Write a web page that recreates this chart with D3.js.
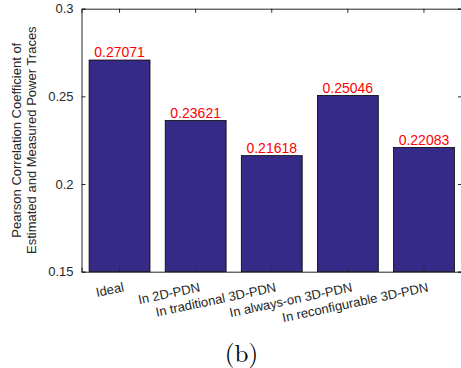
<!DOCTYPE html>
<html>
<head>
<meta charset="utf-8">
<script src="https://cdn.jsdelivr.net/npm/d3@7"></script>
<style>
  body { margin: 0; background: #fff; }
  text { font-family: "Liberation Sans", Arial, Helvetica, sans-serif; }
</style>
</head>
<body>
<script>
// datos
var categorias = ["Ideal", "In 2D-PDN", "In traditional 3D-PDN", "In always-on 3D-PDN", "In reconfigurable 3D-PDN"];
var valores = [0.27071, 0.23621, 0.21618, 0.25046, 0.22083];
var ticksY = [0.15, 0.2, 0.25, 0.3];
var etiquetaY = ["Pearson Correlation Coefficient of", "Estimated and Measured Power Traces"];

var ancho = 461, alto = 368;
var izq = 81.5, der = 462, arriba = 8.7, abajo = 271.7;
var colorEje = "#262626";

var svg = d3.select("body").append("svg")
    .attr("width", ancho)
    .attr("height", alto);

var x = d3.scaleBand()
    .domain(categorias)
    .range([izq, der])
    .paddingInner(0.2)
    .paddingOuter(0.1);

var y = d3.scaleLinear()
    .domain([0.15, 0.3])
    .range([abajo, arriba]);

// barras
svg.append("g").selectAll("rect")
    .data(valores)
    .enter().append("rect")
    .attr("x", function(d, i){ return x(categorias[i]); })
    .attr("y", function(d){ return y(d); })
    .attr("width", x.bandwidth())
    .attr("height", function(d){ return abajo - y(d); })
    .attr("fill", "#352a87")
    .attr("stroke", "#000")
    .attr("stroke-width", 0.8);

// valores sobre las barras
svg.append("g").selectAll("text")
    .data(valores)
    .enter().append("text")
    .attr("x", function(d, i){ return x(categorias[i]) + x.bandwidth()/2; })
    .attr("y", function(d){ return y(d) - 3; })
    .attr("text-anchor", "middle")
    .attr("fill", "#ff0000")
    .style("font-size", "14px")
    .text(function(d){ return d.toFixed(5); });

// caja de ejes
var ejeIzq = d3.axisLeft(y).tickValues(ticksY).tickSize(-4).tickPadding(8)
    .tickFormat(function(d){ return d3.format("")(+d.toFixed(2)); });
var gIzq = svg.append("g").attr("transform", "translate(" + izq + ",0)").call(ejeIzq);

var ejeDer = d3.axisRight(y).tickValues(ticksY).tickSize(-4).tickFormat("");
var gDer = svg.append("g").attr("transform", "translate(" + der + ",0)").call(ejeDer);

var ejeAbajo = d3.axisBottom(x).tickSize(-4).tickFormat("");
var gAbajo = svg.append("g").attr("transform", "translate(0," + abajo + ")").call(ejeAbajo);

var ejeArriba = d3.axisTop(x).tickSize(-4).tickFormat("");
var gArriba = svg.append("g").attr("transform", "translate(0," + arriba + ")").call(ejeArriba);

[gIzq, gDer, gAbajo, gArriba].forEach(function(g){
    g.select(".domain").attr("stroke", colorEje).attr("stroke-width", 1);
    g.selectAll(".tick line").attr("stroke", colorEje).attr("stroke-width", 1);
    g.selectAll("text").attr("fill", colorEje).style("font-size", "13px")
        .style("font-family", "'Liberation Sans', Arial, sans-serif");
});
gAbajo.raise();

// etiquetas de categorias, giradas
svg.append("g").selectAll("text")
    .data(categorias)
    .enter().append("text")
    .attr("transform", function(d){
        return "translate(" + (x(d) + x.bandwidth()/2 + 3) + "," + (abajo + 10) + ") rotate(-12)";
    })
    .attr("dy", "0.75em")
    .attr("text-anchor", "end")
    .attr("fill", colorEje)
    .style("font-size", "13px")
    .text(function(d){ return d; });

// titulo del eje y
svg.append("g").selectAll("text")
    .data(etiquetaY)
    .enter().append("text")
    .attr("transform", function(d, i){
        return "translate(" + (21 + i*15) + "," + ((arriba + abajo)/2) + ") rotate(-90)";
    })
    .attr("text-anchor", "middle")
    .attr("fill", colorEje)
    .style("font-size", "13px")
    .text(function(d){ return d; });

// subtitulo
svg.append("text")
    .attr("x", 241.5)
    .attr("y", 362)
    .attr("text-anchor", "middle")
    .style("font-family", "'Latin Modern Roman', 'Liberation Serif', 'DejaVu Serif', serif")
    .style("font-size", "25px")
    .attr("fill", "#000")
    .text("(b)");
</script>
</body>
</html>
